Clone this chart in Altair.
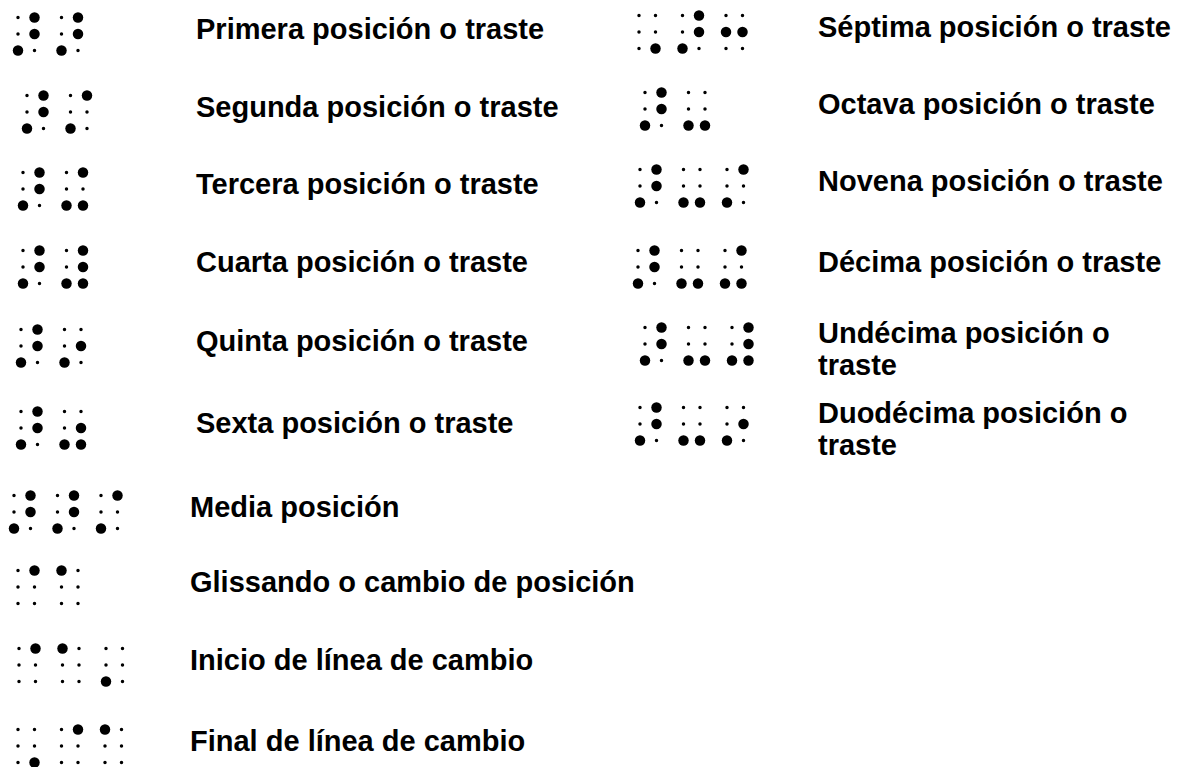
import altair as alt
import pandas as pd

# ---- data: labels and braille dot patterns (dot numbers 1-6 per cell) ----
labels_left = [
    "Primera posición o traste",
    "Segunda posición o traste",
    "Tercera posición o traste",
    "Cuarta posición o traste",
    "Quinta posición o traste",
    "Sexta posición o traste",
    "Media posición",
    "Glissando o cambio de posición",
    "Inicio de línea de cambio",
    "Final de línea de cambio",
]
patterns_left = [
    [[3, 4, 5], [3, 4, 5]],
    [[3, 4, 5], [3, 4]],
    [[3, 4, 5], [3, 4, 6]],
    [[3, 4, 5], [3, 4, 5, 6]],
    [[3, 4, 5], [3, 5]],
    [[3, 4, 5], [3, 5, 6]],
    [[3, 4, 5], [3, 4, 5], [3, 4]],
    [[4], [1]],
    [[4], [1], [3]],
    [[6], [4], [1]],
]
labels_right = [
    "Séptima posición o traste",
    "Octava posición o traste",
    "Novena posición o traste",
    "Décima posición o traste",
    "Undécima posición o\ntraste",
    "Duodécima posición o\ntraste",
]
patterns_right = [
    [[6], [3, 4, 5], [2, 5]],
    [[3, 4, 5], [3, 6]],
    [[3, 4, 5], [3, 6], [3, 4]],
    [[3, 4, 5], [3, 6], [3, 4, 6]],
    [[3, 4, 5], [3, 6], [3, 4, 5, 6]],
    [[3, 4, 5], [3, 6], [3, 5]],
]

# ---- layout (page pixels) ----
W, H, M = 1173, 751, 8
left_cell_x = [18, 27, 23, 23, 21, 21, 14, 18, 19, 18]
left_cell_y = [34, 112, 189, 267, 346, 428, 512, 587, 665, 746]
right_cell_x = [639, 645, 640, 638, 645, 640]
right_cell_y = [32, 109, 186, 267, 344, 424]
left_text_x = [196, 196, 196, 196, 196, 196, 190, 190, 190, 190]
right_text_x = [818] * 6
CELL_DX, DOT_DX, DOT_DY = 43.5, 16.5, 16.5

dot_rows = []
text_rows = []


def add_group(labels, patterns, cx, cy, tx):
    for lab, pat, x0, y0, t0 in zip(labels, patterns, cx, cy, tx):
        for ci, cell in enumerate(pat):
            for d in range(1, 7):
                col = 0 if d <= 3 else 1
                r = (d - 1) % 3
                dot_rows.append({
                    "x": x0 + ci * CELL_DX + col * DOT_DX - M,
                    "y": y0 + (r - 1) * DOT_DY - M,
                    "filled": "on" if d in cell else "off",
                })
        multi = "\n" in lab
        text_rows.append({
            "x": t0 - M,
            "y": (y0 - 1 if multi else y0 + 5) - M,
            "label": lab.split("\n") if multi else lab,
        })


add_group(labels_left, patterns_left, left_cell_x, left_cell_y, left_text_x)
add_group(labels_right, patterns_right, right_cell_x, right_cell_y, right_text_x)

dots = pd.DataFrame(dot_rows)
texts = pd.DataFrame(text_rows)

xs = alt.Scale(domain=[0, W], range=[0, W])
ys = alt.Scale(domain=[0, H], range=[0, H])

dot_layer = alt.Chart(dots).mark_circle(color="black", opacity=1).encode(
    x=alt.X("x:Q", scale=xs, axis=None),
    y=alt.Y("y:Q", scale=ys, axis=None),
    size=alt.Size("filled:N", scale=alt.Scale(domain=["on", "off"], range=[110, 12]), legend=None),
)

text_layer = alt.Chart(texts).mark_text(
    align="left", baseline="alphabetic", font="Liberation Sans, Arial",
    fontSize=29, fontWeight="bold", color="black", lineHeight=32,
).encode(
    x=alt.X("x:Q", scale=xs, axis=None),
    y=alt.Y("y:Q", scale=ys, axis=None),
    text="label",
)

chart = alt.layer(dot_layer, text_layer).properties(
    width=W, height=H, padding=0
).configure_view(stroke=None)

chart.save("out.html", embed_options={"renderer": "svg", "actions": False})
